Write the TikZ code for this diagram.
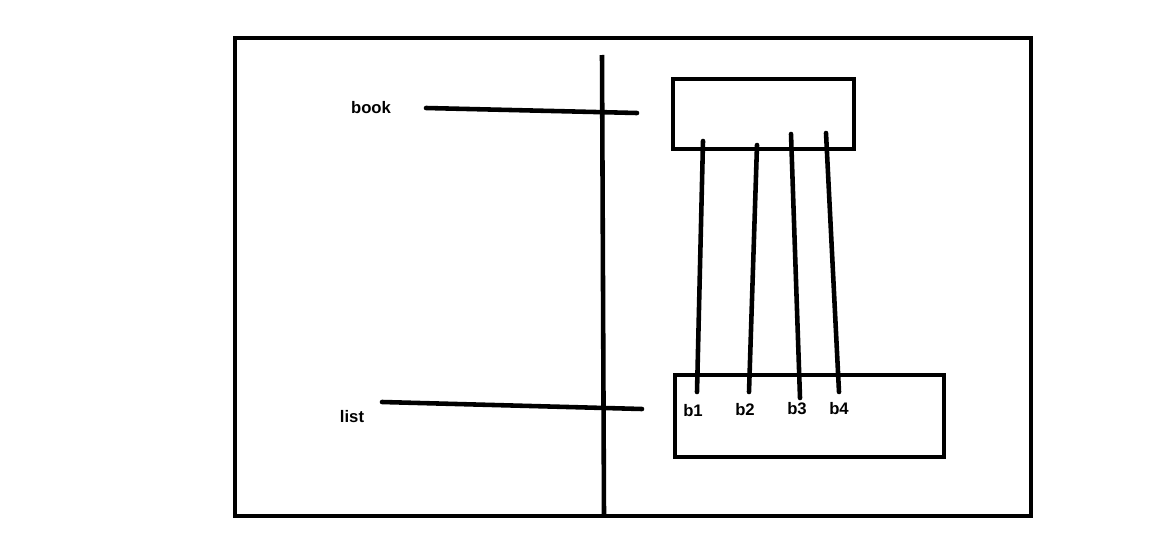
\documentclass[tikz,border=0pt]{standalone}
\usepackage{fontspec}
\setmainfont{Liberation Sans}
\usepackage{tikz}
\usetikzlibrary{positioning,calc}
\tikzset{
  framebox/.style={draw=black,line width=2.5pt},
  objbox/.style={draw=black,line width=2.5pt,inner sep=0pt},
  refline/.style={draw=black,line width=2.6pt,line cap=round},
  varlabel/.style={font=\fontsize{9.5}{11}\selectfont\bfseries,inner sep=1pt},
  elemlabel/.style={font=\fontsize{9.5}{11}\selectfont\bfseries,inner sep=1pt}
}
\begin{document}
\begin{tikzpicture}[x=0.02cm,y=-0.02cm]
  \useasboundingbox (0,0) rectangle (1166,551);
  % stack / heap frame
  \draw[framebox] (235,38) rectangle (1031,516);
  \coordinate (divtop) at (602,55);
  \coordinate (divbot) at (604,516);
  \draw[refline,line cap=butt] (divtop) -- (divbot);
  % heap objects
  \node[objbox,minimum width=3.62cm,minimum height=1.4cm] (bookobj) at (763.5,114) {};
  \node[objbox,minimum width=5.38cm,minimum height=1.64cm] (listobj) at (809.5,416) {};
  % variables
  \node[varlabel] (book) at (371,108) {book};
  \node[varlabel] (list) at (352,417) {list};
  \coordinate (bookfrom) at (426,108);
  \coordinate (bookto) at (637,113);
  \coordinate (listfrom) at (382,402);
  \coordinate (listto) at (642,409);
  \draw[refline] (bookfrom) -- (bookto);
  \draw[refline] (listfrom) -- (listto);
  % elements
  \node[elemlabel] (b1) at (693,411) {b1};
  \node[elemlabel] (b2) at (745,410) {b2};
  \node[elemlabel] (b3) at (797,409) {b3};
  \node[elemlabel] (b4) at (839,409) {b4};
  \coordinate (t1) at (703,141);
  \coordinate (t2) at (757,145);
  \coordinate (t3) at (791,134);
  \coordinate (t4) at (826,133);
  \coordinate (e1) at (697,392);
  \coordinate (e2) at (749,392);
  \coordinate (e3) at (800,398);
  \coordinate (e4) at (839,392);
  \foreach \i in {1,...,4}
    \draw[refline] (t\i) -- (e\i);
\end{tikzpicture}
\end{document}
